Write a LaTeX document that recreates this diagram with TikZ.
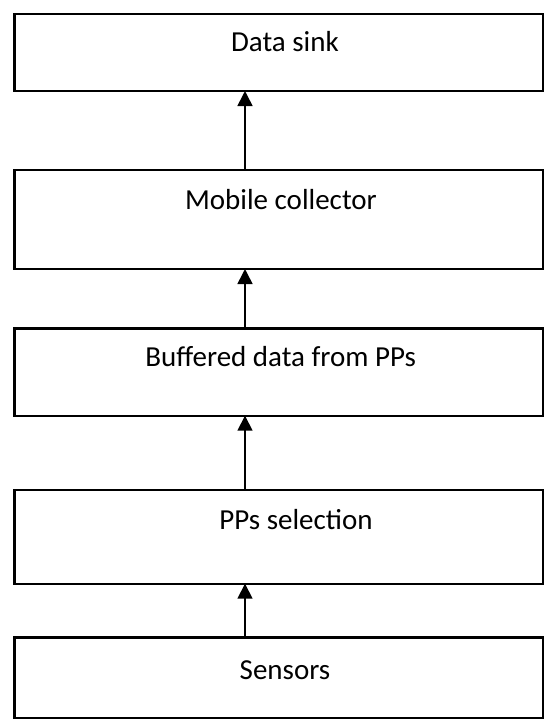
\documentclass[tikz,border=0pt]{standalone}
\usepackage{fontspec}
\setmainfont{Carlito}
\usetikzlibrary{arrows.meta}
\begin{document}
\begin{tikzpicture}[x=1pt,y=-1pt,
  stage/.style={draw=black,line width=2.4pt,minimum width=528.5pt,inner sep=0pt,outer sep=0pt},
  caption/.style={font=\fontsize{29}{34}\selectfont,inner sep=0pt,anchor=base},
  flow/.style={line width=1.6pt,-{Triangle[width=15pt,length=15pt]}}]
  \useasboundingbox (0,0) rectangle (553,724);
  % stage boxes, top to bottom
  \node[stage,minimum height=77pt]   (sink)   at (278.75,52.5)  {};
  \node[stage,minimum height=99pt]   (mc)     at (278.75,219.5) {};
  \node[stage,minimum height=87.2pt] (buf)    at (278.75,372.1) {};
  \node[stage,minimum height=93.7pt] (sel)    at (278.75,536.85){};
  \node[stage,minimum height=80.7pt] (sens)   at (278.75,677.65){};
  % captions
  \node[caption] (tsink) at (285,51.7)  {Data sink};
  \node[caption] (tmc)   at (281,209)   {Mobile collector};
  \node[caption] (tbuf)  at (280.7,366.7) {Buffered data from PPs};
  \node[caption] (tsel)  at (296,529)   {PPs selection};
  \node[caption] (tsens) at (285,679)   {Sensors};
  % flow arrows
  \coordinate (ax) at (245,0);
  \draw[flow] (sens.north -| ax) -- (sel.south -| ax);
  \draw[flow] (sel.north -| ax)  -- (buf.south -| ax);
  \draw[flow] (buf.north -| ax)  -- (mc.south -| ax);
  \draw[flow] (mc.north -| ax)   -- (sink.south -| ax);
\end{tikzpicture}
\end{document}
